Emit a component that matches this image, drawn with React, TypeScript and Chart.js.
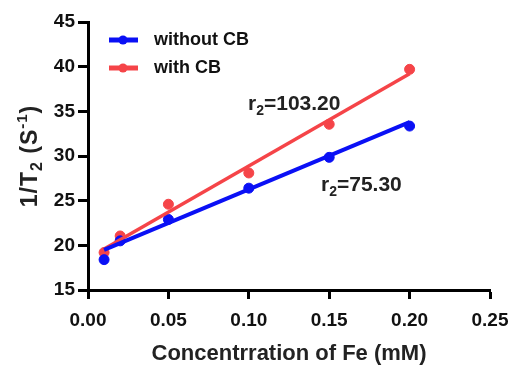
import React, { useEffect, useRef } from "react";
import { Chart, registerables } from "chart.js";
Chart.register(...registerables);

const concentrations = [0.01, 0.02, 0.05, 0.1, 0.15, 0.2];
const withoutCB = [18.4, 20.5, 22.9, 26.4, 29.85, 33.35];
const withCB = [19.2, 21.05, 24.6, 28.1, 33.55, 39.7];
const fitX = [0.01, 0.2];
const fitWithout = [19.5, 33.8];
const fitWith = [19.6, 39.2];
const seriesNames = ["without CB", "with CB"];
const slopeLabels = ["75.30", "103.20"];
const xTitle = "Concentrration of Fe (mM)";

const BLUE = "#0a10f5";
const RED = "#f54448";
const FONT = "'Liberation Sans', Arial, sans-serif";

const overlay = {
  id: "overlay",
  afterDraw(chart: any) {
    const ctx = chart.ctx as CanvasRenderingContext2D;
    const ys = chart.scales.y;
    const xs = chart.scales.x;
    ctx.save();
    // legend
    const items = [
      { c: BLUE, t: seriesNames[0], y: 40 },
      { c: RED, t: seriesNames[1], y: 68 },
    ];
    items.forEach((it) => {
      ctx.strokeStyle = it.c;
      ctx.lineWidth = 5;
      ctx.beginPath();
      ctx.moveTo(109, it.y);
      ctx.lineTo(138, it.y);
      ctx.stroke();
      ctx.fillStyle = it.c;
      ctx.beginPath();
      ctx.arc(123, it.y, 4.5, 0, Math.PI * 2);
      ctx.fill();
      ctx.fillStyle = "#111";
      ctx.font = `bold 18px ${FONT}`;
      ctx.textBaseline = "middle";
      ctx.textAlign = "left";
      ctx.fillText(it.t, 154, it.y);
    });
    // annotations
    const drawR = (label: string, x: number, y: number) => {
      ctx.fillStyle = "#222";
      ctx.textBaseline = "alphabetic";
      ctx.textAlign = "left";
      ctx.font = `bold 21px ${FONT}`;
      ctx.fillText("r", x, y);
      let w = ctx.measureText("r").width;
      ctx.font = `bold 14px ${FONT}`;
      ctx.fillText("2", x + w, y + 5);
      w += ctx.measureText("2").width;
      ctx.font = `bold 21px ${FONT}`;
      ctx.fillText("=" + label, x + w, y);
    };
    drawR(slopeLabels[1], 248, 110);
    drawR(slopeLabels[0], 321, 191);
    // x title
    ctx.fillStyle = "#222";
    ctx.font = `bold 22px ${FONT}`;
    ctx.textAlign = "center";
    ctx.textBaseline = "alphabetic";
    ctx.fillText(xTitle, (xs.left + xs.right) / 2, 360);
    // y title
    ctx.textAlign = "left";
    ctx.translate(37, (ys.top + ys.bottom) / 2);
    ctx.rotate(-Math.PI / 2);
    (ctx as any).letterSpacing = "1px";
    const parts: [string, number, number][] = [
      ["1/T", 23, 0],
      ["2", 16, 5],
      [" (S", 23, 0],
      ["-1", 15, -10],
      [")", 23, 0],
    ];
    let total = 0;
    parts.forEach(([t, s]) => {
      ctx.font = `bold ${s}px ${FONT}`;
      total += ctx.measureText(t).width;
    });
    let px = -total / 2;
    parts.forEach(([t, s, dy]) => {
      ctx.font = `bold ${s}px ${FONT}`;
      ctx.fillText(t, px, dy);
      px += ctx.measureText(t).width;
    });
    ctx.restore();
  },
};

export default function App() {
  const ref = useRef<HTMLCanvasElement>(null);
  useEffect(() => {
    document.body.style.margin = "0";
    const chart = new Chart(ref.current!, {
      type: "scatter",
      data: {
        datasets: [
          {
            type: "line",
            data: fitX.map((x, i) => ({ x, y: fitWithout[i] })),
            borderColor: BLUE,
            borderWidth: 4,
            pointRadius: 0,
          },
          {
            type: "line",
            data: fitX.map((x, i) => ({ x, y: fitWith[i] })),
            borderColor: RED,
            borderWidth: 3.5,
            pointRadius: 0,
          },
          {
            data: concentrations.map((x, i) => ({ x, y: withoutCB[i] })),
            backgroundColor: BLUE,
            borderColor: BLUE,
            pointRadius: 5,
          },
          {
            data: concentrations.map((x, i) => ({ x, y: withCB[i] })),
            backgroundColor: RED,
            borderColor: RED,
            pointRadius: 5,
          },
        ],
      },
      options: {
        animation: false,
        responsive: false,
        layout: { padding: { top: 22, right: 23, left: 0, bottom: 0 } },
        plugins: { legend: { display: false }, tooltip: { enabled: false } },
        scales: {
          x: {
            type: "linear",
            min: 0,
            max: 0.25,
            afterFit: (s: any) => {
              s.height = 75;
              s.paddingLeft = 0;
              s.paddingRight = 0;
            },
            ticks: {
              stepSize: 0.05,
              color: "#111",
              font: { family: FONT, size: 19, weight: "bold" },
              padding: 10,
              callback: (v: any) => Number(v).toFixed(2),
            },
            grid: {
              drawOnChartArea: false,
              tickLength: 9,
              tickWidth: 3,
              tickColor: "#000",
            },
            border: { color: "#000", width: 3 },
          },
          y: {
            min: 15,
            max: 45,
            afterFit: (s: any) => {
              s.width = 88;
              s.paddingTop = 0;
              s.paddingBottom = 0;
            },
            ticks: {
              stepSize: 5,
              color: "#111",
              font: { family: FONT, size: 19, weight: "bold" },
              padding: 3,
            },
            grid: {
              drawOnChartArea: false,
              tickLength: 10,
              tickWidth: 3,
              tickColor: "#000",
            },
            border: { color: "#000", width: 3 },
          },
        },
      },
      plugins: [overlay],
    } as any);
    return () => chart.destroy();
  }, []);
  return (
    <div style={{ position: "relative", width: 513, height: 365, background: "#fff" }}>
      <canvas ref={ref} width={513} height={365} style={{ display: "block" }} />
    </div>
  );
}
